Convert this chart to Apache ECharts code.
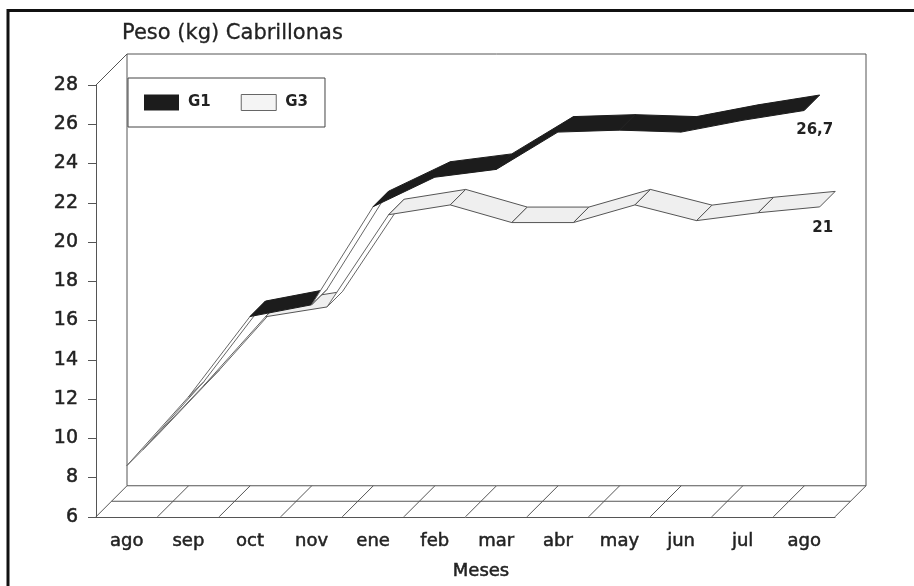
<!DOCTYPE html>
<html>
<head>
<meta charset="utf-8">
<title>Peso (kg) Cabrillonas</title>
<script src="https://cdn.jsdelivr.net/npm/echarts@6/dist/echarts.min.js"></script>
<style>
  html, body { margin: 0; padding: 0; background: #fff; }
  #chart { width: 914px; height: 586px; }
</style>
</head>
<body>
<div id="chart"></div>
<script>
// data
const months = ['ago', 'sep', 'oct', 'nov', 'ene', 'feb', 'mar', 'abr', 'may', 'jun', 'jul', 'ago']
const g1 = [8.6, 12.1, 16.2, 16.8, 21.8, 23.3, 23.7, 25.6, 25.7, 25.6, 26.2, 26.7]
const g3 = [8.6, 11.9, 15.4, 15.9, 20.6, 21.1, 20.2, 20.2, 21.1, 20.3, 20.7, 21]
const yTicks = { min: 6, max: 28, step: 2 }

// look of the fake 3d
const DEPTH = 31
const HALF = DEPTH / 2
const FONT = 'DejaVu Sans'
const LINE = '#555'
const INK = '#222'
// a thin outline makes the text a bit heavier, like the old plotter font
const heavy = { color: INK, textBorderColor: INK, textBorderWidth: 0.5 }

const chart = echarts.init(document.getElementById('chart'))

const fmt = (v) => String(v).replace('.', ',')

// floor and back wall
const renderBox = (params, api) => {
  const band = api.size([1, 0])[0]
  const [x0, yTop] = api.coord([0, yTicks.max])
  const yBot = api.coord([0, yTicks.min])[1]
  const left = x0 - band / 2
  const right = left + band * months.length
  const lines = []
  const line = (x1, y1, x2, y2) => lines.push({
    type: 'line',
    shape: { x1, y1, x2, y2 },
    style: { stroke: LINE, lineWidth: 1 }
  })
  line(left, yTop, left + DEPTH, yTop - DEPTH)
  line(left + DEPTH, yTop - DEPTH, right + DEPTH, yTop - DEPTH)
  line(left + DEPTH, yTop - DEPTH, left + DEPTH, yBot - DEPTH)
  line(right + DEPTH, yTop - DEPTH, right + DEPTH, yBot - DEPTH)
  line(left + DEPTH, yBot - DEPTH, right + DEPTH, yBot - DEPTH)
  line(left + HALF, yBot - HALF, right + HALF, yBot - HALF)
  for (let k = 0; k <= months.length; k++) {
    const x = left + k * band
    line(x, yBot, x + DEPTH, yBot - DEPTH)
  }
  return { type: 'group', children: lines }
}

// one ribbon per series, drawn segment by segment from left to right
const makeRibbon = (values, slot, fill, stroke, labelDy) => (params, api) => {
  const i = params.dataIndex
  const off0 = slot * HALF
  const off1 = off0 + HALF
  const p = api.coord([i, values[i]])
  if (i === values.length - 1) {
    return {
      type: 'text',
      style: {
        text: fmt(values[i]),
        x: p[0] + 29,
        y: p[1] + labelDy,
        align: 'right',
        verticalAlign: 'middle',
        font: 'bold 15px "' + FONT + '"',
        fill: INK
      }
    }
  }
  const q = api.coord([i + 1, values[i + 1]])
  // rising steeper than the depth direction: the underside shows
  const topVisible = (q[0] - p[0]) + (q[1] - p[1]) > 0
  return {
    type: 'polygon',
    shape: {
      points: [
        [p[0] + off0, p[1] - off0],
        [q[0] + off0, q[1] - off0],
        [q[0] + off1, q[1] - off1],
        [p[0] + off1, p[1] - off1]
      ]
    },
    style: topVisible
      ? { fill, stroke, lineWidth: 1, lineJoin: 'round' }
      : { fill: '#fff', stroke: '#666', lineWidth: 1, lineJoin: 'round' }
  }
}

const option = {
  animation: false,
  backgroundColor: '#fff',
  textStyle: { fontFamily: FONT },
  title: {
    text: 'Peso (kg) Cabrillonas',
    left: 122,
    top: 23,
    padding: 0,
    textStyle: { fontFamily: FONT, fontSize: 21, fontWeight: 'normal', ...heavy, textBorderWidth: 0.3 }
  },
  legend: {
    left: 128,
    top: 78,
    orient: 'horizontal',
    padding: [16, 17, 16, 16],
    itemWidth: 35,
    itemHeight: 16,
    itemGap: 30,
    borderColor: '#444',
    borderWidth: 1,
    textStyle: { fontFamily: FONT, fontSize: 15, fontWeight: 'bold', color: INK, padding: [0, 0, 0, 4] },
    data: [
      { name: 'G1', icon: 'rect', itemStyle: { color: '#1c1c1c' } },
      { name: 'G3', icon: 'rect', itemStyle: { color: '#f4f4f4', borderColor: '#666', borderWidth: 1 } }
    ]
  },
  graphic: [{
    type: 'rect',
    shape: { x: 8, y: 10.5, width: 1000, height: 700 },
    style: { fill: 'none', stroke: '#111', lineWidth: 3 },
    silent: true
  }],
  grid: { left: 96, right: 79, top: 85, bottom: 64 },
  xAxis: {
    type: 'category',
    data: months,
    boundaryGap: true,
    name: 'Meses',
    nameLocation: 'middle',
    nameGap: 46,
    nameTextStyle: { fontFamily: FONT, fontSize: 18, ...heavy, padding: [0, 0, 0, 31] },
    axisLine: { lineStyle: { color: LINE, width: 1 } },
    axisTick: { alignWithLabel: true, length: 6, lineStyle: { color: LINE } },
    axisLabel: { fontFamily: FONT, fontSize: 18, ...heavy, margin: 16 },
    splitLine: { show: false }
  },
  yAxis: {
    type: 'value',
    min: yTicks.min,
    max: yTicks.max,
    interval: yTicks.step,
    axisLine: { show: true, lineStyle: { color: LINE, width: 1 } },
    axisTick: { show: true, length: 8, lineStyle: { color: LINE } },
    axisLabel: { fontFamily: FONT, fontSize: 19, ...heavy, margin: 18 },
    splitLine: { show: false }
  },
  series: [
    {
      name: 'box',
      type: 'custom',
      silent: true,
      renderItem: renderBox,
      data: [[0, yTicks.min]],
      z: 1
    },
    {
      name: 'G3',
      type: 'custom',
      renderItem: makeRibbon(g3, 1, '#efefef', '#555', 6),
      itemStyle: { color: '#f4f4f4' },
      data: g3.map((v, i) => [i, v]),
      z: 2
    },
    {
      name: 'G1',
      type: 'custom',
      renderItem: makeRibbon(g1, 0, '#1c1c1c', '#1c1c1c', 20),
      itemStyle: { color: '#1c1c1c' },
      data: g1.map((v, i) => [i, v]),
      z: 3
    }
  ]
}

chart.setOption(option)
</script>
</body>
</html>
